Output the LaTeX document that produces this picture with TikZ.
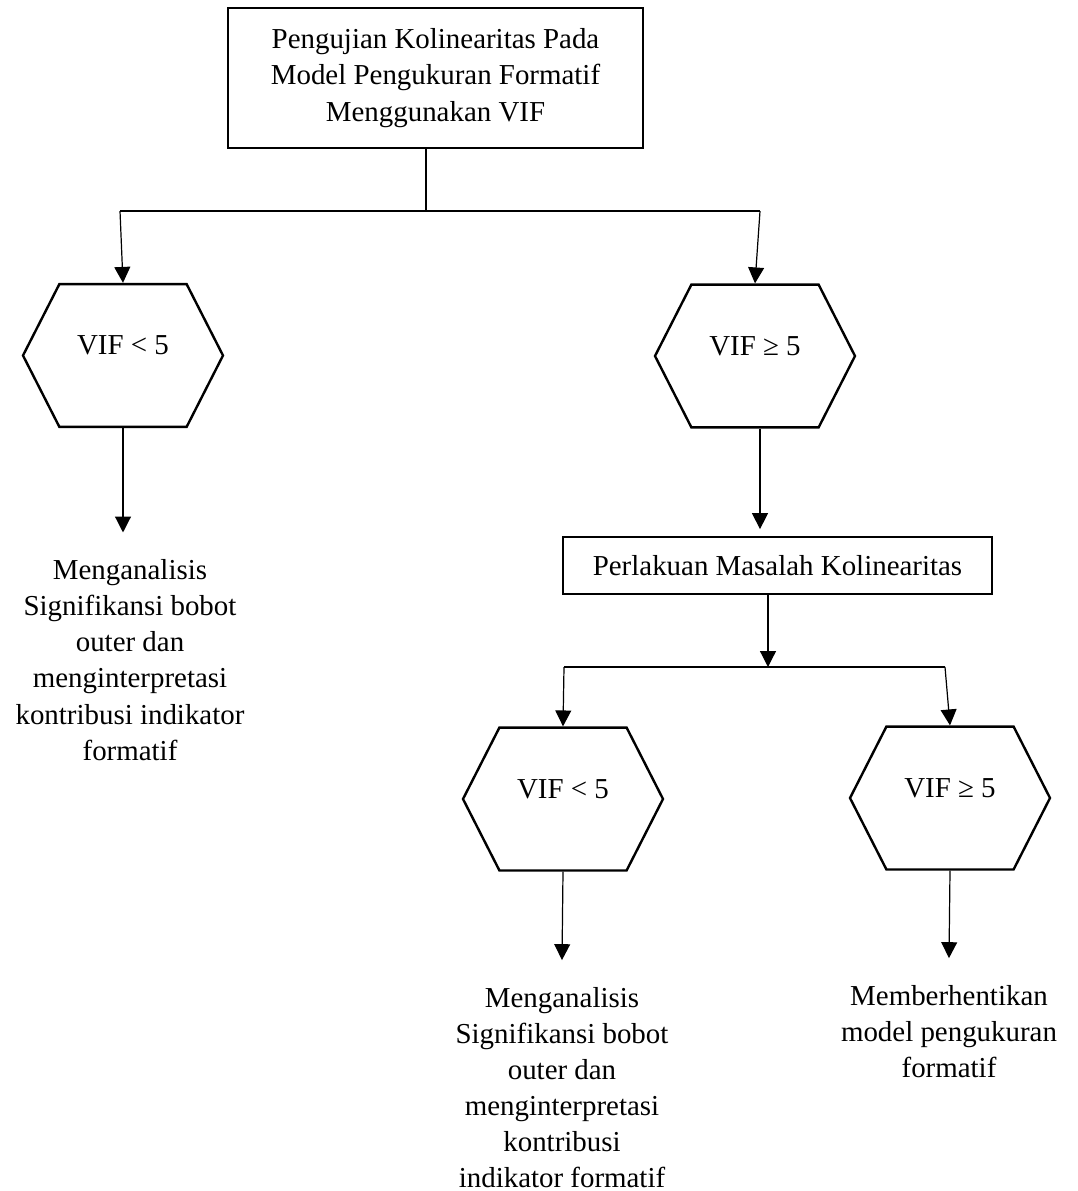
\documentclass[tikz,border=0pt]{standalone}
\usepackage{fontspec}
\setmainfont{Liberation Serif}
\usetikzlibrary{arrows.meta, shapes.symbols}

\tikzset{
  kotak/.style={draw, line width=0.5pt, align=center},
  hexa/.style={draw, line width=1pt, signal, signal to=east and west,
    signal pointer angle=126, minimum width=83pt, minimum height=59.3pt, inner sep=0pt},
  hasil/.style={align=center, inner sep=11pt},
  garis/.style={line width=0.5pt},
  panah/.style={line width=0.5pt, -{Triangle[length=6.6pt, width=6.6pt]}}
}

\begin{document}
\begin{tikzpicture}[x=0.415pt, y=-0.415pt, font=\fontsize{12}{15}\selectfont]
\useasboundingbox (0,0) rectangle (1078,1191);

\node[kotak, minimum width=172.2pt, minimum height=58.1pt] (uji) at (435.5,78)
  {Pengujian Kolinearitas Pada\\Model Pengukuran Formatif\\Menggunakan VIF};
\coordinate (cab1) at (426,211);
\coordinate (cabL) at (120,211);
\coordinate (cabR) at (760,211);

\node[hexa, label={[yshift=4.2pt]center:{VIF < 5}}] (vifA) at (123,355.5) {};
\node[hexa, label={[yshift=4.2pt]center:{VIF ≥ 5}}] (vifB) at (755,356) {};
\node[hasil] (hasilA) at (130,660)
  {Menganalisis\\Signifikansi bobot\\outer dan\\menginterpretasi\\kontribusi indikator\\formatif};

\node[kotak, minimum width=178pt, minimum height=23.7pt] (lakukan) at (777.5,565.5)
  {Perlakuan Masalah Kolinearitas};
\coordinate (cab2) at (768,667);
\coordinate (cabCL) at (564,667);
\coordinate (cabCR) at (945,667);

\node[hexa, label={[yshift=4.2pt]center:{VIF < 5}}] (vifC) at (563,799) {};
\node[hexa, label={[yshift=4.2pt]center:{VIF ≥ 5}}] (vifD) at (950,798) {};
\node[hasil] (hasilC) at (562,1087.6)
  {Menganalisis\\Signifikansi bobot\\outer dan\\menginterpretasi\\kontribusi\\indikator formatif};
\node[hasil] (hasilD) at (949,1031.4)
  {Memberhentikan\\model pengukuran\\formatif};

\draw[garis] (uji.south -| cab1) -- (cab1);
\draw[garis] (cabL) -- (cabR);
\draw[panah] (cabL) -- (vifA.north);
\draw[panah] (cabR) -- (vifB.north);
\draw[panah] (vifA.south) -- (vifA.south |- hasilA.north);
\draw[panah, shorten >=3pt] (vifB.south -| cabR) -- (lakukan.north -| cabR);

\draw[panah] (lakukan.south -| cab2) -- (cab2);
\draw[garis] (cabCL) -- (cabCR);
\draw[panah] (cabCL) -- (vifC.north);
\draw[panah] (cabCR) -- (vifD.north);
\draw[panah] (vifC.south) -- (hasilC.north);
\draw[panah] (vifD.south) -- (hasilD.north);
\end{tikzpicture}
\end{document}
